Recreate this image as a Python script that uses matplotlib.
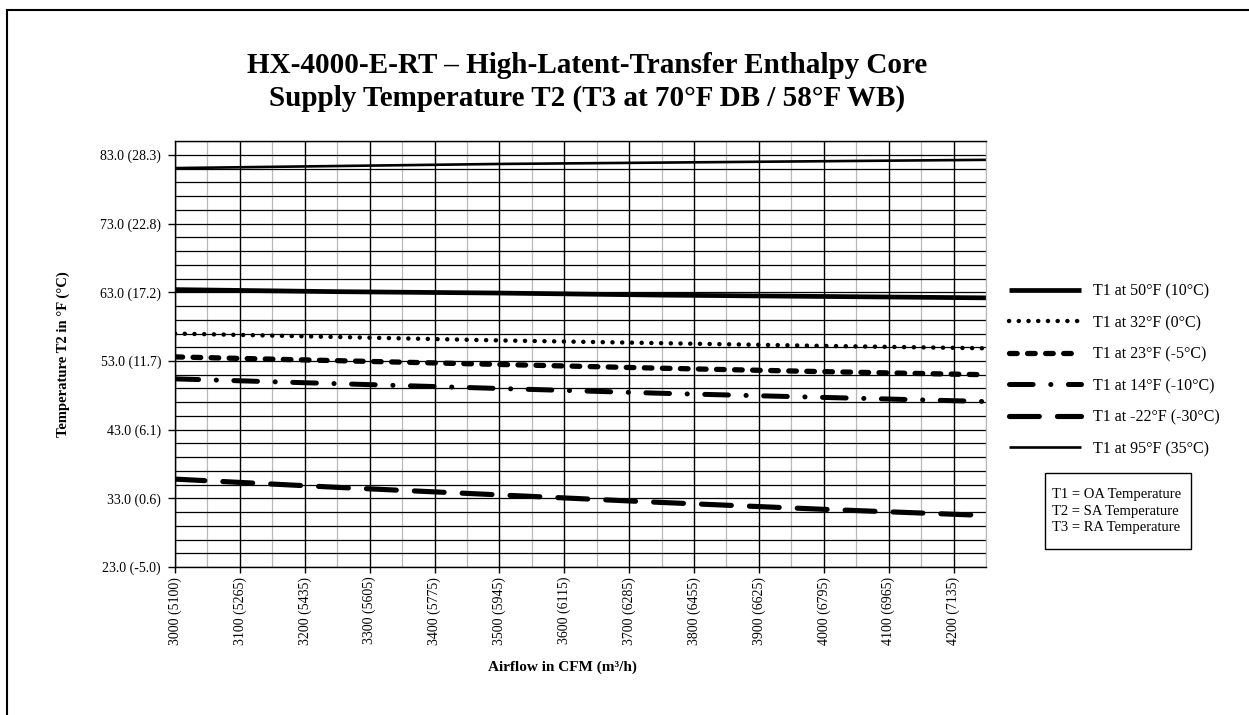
import numpy as np
import matplotlib
matplotlib.use("Agg")
import matplotlib.pyplot as plt
from matplotlib.lines import Line2D
from matplotlib.patches import Rectangle

plt.rcParams['font.family'] = ['Liberation Serif', 'DejaVu Serif']
plt.rcParams['lines.scale_dashes'] = False

# airflow in CFM (sample points)
cfm = [3000, 3250, 3500, 3750, 4000, 4250]

t1_50 = [63.4, 63.1, 62.9, 62.6, 62.4, 62.2]
t1_32 = [57.0, 56.5, 56.0, 55.6, 55.2, 54.85]
t1_23 = [53.6, 53.05, 52.5, 51.95, 51.45, 51.0]
t1_14 = [50.4, 49.7, 49.0, 48.3, 47.7, 47.1]
t1_m22 = [35.8, 34.6, 33.5, 32.4, 31.4, 30.5]
t1_95 = [81.1, 81.4, 81.7, 81.9, 82.1, 82.3]

x_ticks = [3000, 3100, 3200, 3300, 3400, 3500, 3600, 3700, 3800, 3900, 4000, 4100, 4200]
x_labels = ['3000 (5100)', '3100 (5265)', '3200 (5435)', '3300 (5605)', '3400 (5775)',
            '3500 (5945)', '3600 (6115)', '3700 (6285)', '3800 (6455)', '3900 (6625)',
            '4000 (6795)', '4100 (6965)', '4200 (7135)']
y_ticks = [23, 33, 43, 53, 63, 73, 83]
y_labels = ['23.0 (-5.0)', '33.0 (0.6)', '43.0 (6.1)', '53.0 (11.7)',
            '63.0 (17.2)', '73.0 (22.8)', '83.0 (28.3)']

W, H = 1249, 715
fig = plt.figure(figsize=(12.49, 7.15), dpi=100)
ax = fig.add_axes([175 / W, 1 - 567 / H, (986 - 175) / W, (567 - 141.3) / H])

ax.plot(cfm, t1_50, color='black', lw=3.4, solid_capstyle='butt', label='T1 at 50°F (10°C)')
ax.plot(cfm, t1_32, color='black', lw=3.2, dashes=(0.1, 6.9), dash_capstyle='round',
        label='T1 at 32°F (0°C)')
ax.plot(cfm, t1_23, color='black', lw=3.8, dashes=(5.5, 7.5), dash_capstyle='round',
        label='T1 at 23°F (-5°C)')
ax.plot(cfm, t1_14, color='black', lw=3.6, dashes=(17, 12.7, 0.1, 12.6), dash_capstyle='round',
        label='T1 at 14°F (-10°C)')
ax.plot(cfm, t1_m22, color='black', lw=3.7, dashes=(21.5, 13), dash_capstyle='round',
        label='T1 at -22°F (-30°C)')
ax.plot(cfm, t1_95, color='black', lw=1.9, solid_capstyle='butt', label='T1 at 95°F (35°C)')

ax.set_xlim(3000, 4250)
ax.set_ylim(23, 85)
ax.set_xticks(x_ticks)
ax.set_xticklabels(x_labels, rotation=90, fontsize=10)
ax.set_xticks(np.arange(3050, 4251, 100), minor=True)
ax.set_yticks(y_ticks)
ax.set_yticklabels(y_labels, fontsize=10)
ax.set_yticks(np.arange(25, 86, 2), minor=True)

ax.tick_params(axis='x', which='major', direction='out', length=4, width=1, pad=3)
ax.tick_params(axis='y', which='major', direction='out', length=5, width=1, pad=5)
ax.tick_params(which='minor', length=0)

ax.grid(axis='y', which='both', color='black', lw=0.9)
ax.grid(axis='x', which='major', color='black', lw=1.0)
ax.grid(axis='x', which='minor', color='#b8b8b8', lw=0.9)
ax.set_axisbelow(True)

for s in ['left', 'bottom', 'top']:
    ax.spines[s].set_color('black')
    ax.spines[s].set_linewidth(1.0)
ax.spines['right'].set_color('#b8b8b8')
ax.spines['right'].set_linewidth(0.9)

ax.set_xlabel('Airflow in CFM (m³/h)', fontsize=11, fontweight='bold')
ax.xaxis.set_label_coords((562 - 175) / 811, (567 - 661) / 425.7)
ax.set_ylabel('Temperature T2 in °F (°C)', fontsize=10.5, fontweight='bold', labelpad=22)

fig.text(0.470, 1 - 82 / H,
         'HX-4000-E-RT – High-Latent-Transfer Enthalpy Core\n'
         'Supply Temperature T2 (T3 at 70°F DB / 58°F WB)',
         ha='center', va='center', fontsize=21, fontweight='bold', linespacing=1.25)

ax.legend(loc='center left', bbox_to_anchor=(1.011, 0.462), frameon=False, fontsize=11.5,
          handlelength=4.5, handletextpad=0.75, labelspacing=0.97)

# note box
fig.add_artist(Rectangle((1045 / W, 1 - 549 / H), 146 / W, 76 / H, transform=fig.transFigure,
                         facecolor='white', edgecolor='black', lw=1.0))
fig.text(1052 / W, 1 - 511 / H,
         'T1 = OA Temperature\nT2 = SA Temperature\nT3 = RA Temperature',
         ha='left', va='center', fontsize=10.5, linespacing=1.35)

# outer border (left and top edges visible)
fig.add_artist(Line2D([7 / W, 7 / W], [0, 1 - 10 / H], color='black', lw=1.5,
                      transform=fig.transFigure))
fig.add_artist(Line2D([7 / W, 1], [1 - 10 / H, 1 - 10 / H], color='black', lw=1.5,
                      transform=fig.transFigure))

fig.savefig('out.png', dpi=100)
